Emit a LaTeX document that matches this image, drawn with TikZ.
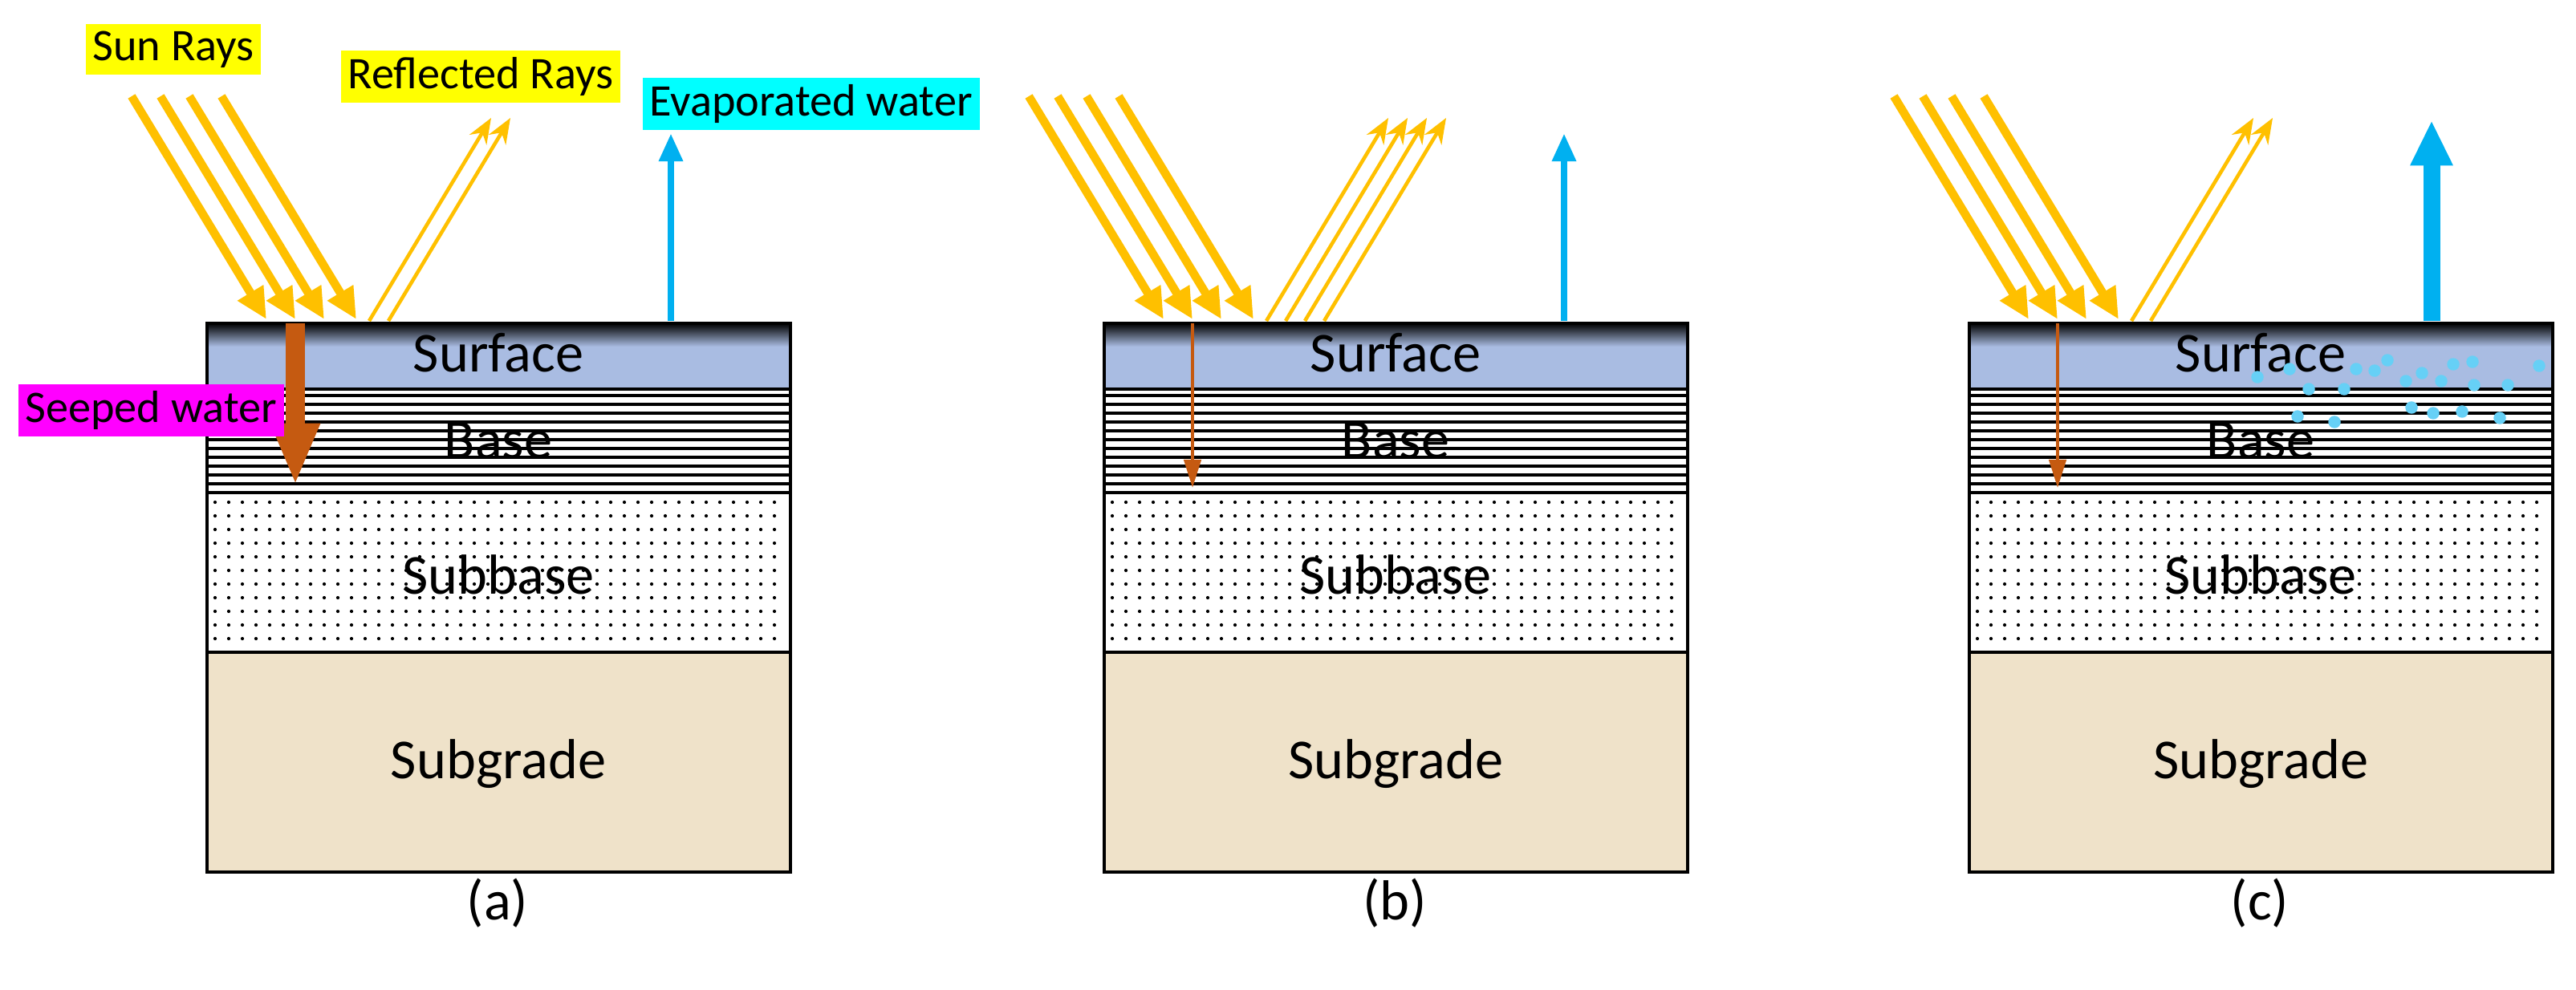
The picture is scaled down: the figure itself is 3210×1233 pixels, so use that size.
\documentclass[tikz,border=0pt]{standalone}
\usepackage{fontspec}
\setmainfont{Carlito}
\usetikzlibrary{arrows.meta}
\definecolor{sunc}{HTML}{FFC000}
\definecolor{surfc}{HTML}{A9BCE2}
\definecolor{gradec}{HTML}{EFE2C9}
\definecolor{evapc}{HTML}{00B0F0}
\definecolor{seepc}{HTML}{C55A11}
\definecolor{lblyel}{HTML}{FFFF00}
\definecolor{lblcyan}{HTML}{00FFFF}
\definecolor{lblmag}{HTML}{FF00FF}
\tikzset{%
        sun/.style={draw=sunc, line width=3pt, -{Triangle[length=11pt,width=10pt]}},
        refl/.style={draw=sunc, line width=1.3pt, -{Stealth[length=9pt,width=7pt]}},
        evap/.style={draw=evapc, line width=2.5pt, -{Triangle[length=10pt,width=8pt]}},
        seep/.style={draw=seepc, line width=1.2pt, -{Triangle[length=10pt,width=6pt]}},
        tag/.style={inner sep=2.5pt, font=\fontsize{16}{19}\selectfont},
        layer/.style={font=\fontsize{20}{24}\selectfont}
    }
% one pavement cross-section, left edge at x=0
\newcommand{\pavement}[2]{%
    \fill[gradec] (0,813) rectangle (727,1087);
    \fill[surfc] (0,403) rectangle (727,485);
    \shade[top color=black, bottom color=surfc] (0,403) rectangle (727,432);
    \foreach \y in {493,504,...,610} \draw[line width=0.9pt] (0,\y) -- (727,\y);
    \foreach \x in {10,27,...,720} \foreach \y in {626,643,...,805} \fill (\x,\y) circle (0.6pt);
    \draw[line width=1pt] (0,485) -- (727,485) (0,614) -- (727,614) (0,813) -- (727,813);
    \draw[line width=1.2pt] (0,403) rectangle (727,1087);
    \node[layer] (#1surf) at (363,440) {Surface};
    \node[layer] (#1base) at (363,549) {Base};
    \node[layer] (#1sub) at (363,716) {Subbase};
    \node[layer] (#1grade) at (363,952) {Subgrade};
    \node[font=\fontsize{20}{24}\selectfont] (#1cap) at (362,1126) {#2};
    % sun rays
    \foreach \i/\s in {1/-94,2/-58,3/-22,4/18} {
        \coordinate (#1s\i) at (\s,120);
        \coordinate (#1h\i) at (\s+168,398);
        \draw[sun] (#1s\i) -- (#1h\i);
    }
}

\begin{document}
\begin{tikzpicture}[x=0.01cm, y=-0.01cm]
    \useasboundingbox (0,0) rectangle (3210,1233);

    % panel (a)
    \begin{scope}[shift={(258,0)}]
        \pavement{a}{(a)}
        \foreach \i/\x in {1/202,2/226} {
            \coordinate (ar\i) at (\x,400);
            \coordinate (at\i) at (\x+152,147);
            \draw[refl] (ar\i) -- (at\i);
        }
        \coordinate (aev) at (578,400);
        \coordinate (aevt) at (578,166);
        \draw[evap] (aev) -- (aevt);
        \coordinate (asp) at (110,403);
        \coordinate (aspt) at (110,605);
        \draw[draw=seepc, line width=7pt, -{Triangle[length=22pt,width=16pt]}] (asp) -- (aspt);
    \end{scope}
    \node[tag, fill=lblyel, anchor=north west] (sunlbl) at (106,29) {Sun Rays};
    \node[tag, fill=lblyel, anchor=north west] (refllbl) at (424,62) {Reflected Rays};
    \node[tag, fill=lblcyan, anchor=north west] (evaplbl) at (800,96) {Evaporated water};
    \node[tag, fill=lblmag, anchor=north west] (seeplbl) at (22,478) {Seeped water};

    % panel (b)
    \begin{scope}[shift={(1376,0)}]
        \pavement{b}{(b)}
        \foreach \i/\x in {1/202,2/226,3/250,4/274} {
            \coordinate (br\i) at (\x,400);
            \coordinate (bt\i) at (\x+152,147);
            \draw[refl] (br\i) -- (bt\i);
        }
        \coordinate (bev) at (573,400);
        \coordinate (bevt) at (573,166);
        \draw[evap] (bev) -- (bevt);
        \coordinate (bsp) at (110,403);
        \coordinate (bspt) at (110,608);
        \draw[seep] (bsp) -- (bspt);
    \end{scope}

    % panel (c)
    \begin{scope}[shift={(2454,0)}]
        \pavement{c}{(c)}
        \foreach \i/\x in {1/202,2/226} {
            \coordinate (cr\i) at (\x,400);
            \coordinate (ct\i) at (\x+152,147);
            \draw[refl] (cr\i) -- (ct\i);
        }
        \coordinate (cev) at (576,400);
        \coordinate (cevt) at (576,150);
        \draw[draw=evapc, line width=6pt, -{Triangle[length=16pt,width=14pt]}] (cev) -- (cevt);
        \coordinate (csp) at (110,403);
        \coordinate (cspt) at (110,608);
        \draw[seep] (csp) -- (cspt);
    \end{scope}
    % water droplets
    \foreach \x/\y in {2813/470,2853/460,2877/485,2921/485,2936/460,2959/462,2975/449,2998/475,3018/465,3042/475,3057/454,3081/451,3083/480,3125/480,3164/456,3005/508,3032/515,3068/513,3115/521,2863/519,2909/526}
        \fill[evapc!60] (\x,\y) circle (2.2pt);
\end{tikzpicture}
\end{document}
